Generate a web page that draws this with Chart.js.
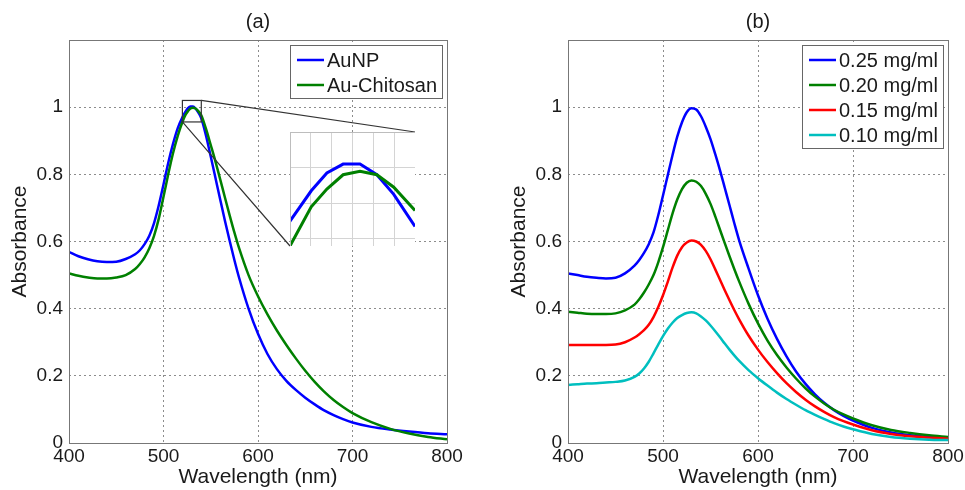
<!DOCTYPE html>
<html>
<head>
<meta charset="utf-8">
<title>Absorbance spectra</title>
<script src="https://cdn.jsdelivr.net/npm/chart.js@4.4.1/dist/chart.umd.min.js"></script>
<style>
  html, body { margin: 0; padding: 0; background: #fff; }
  #fig { position: relative; width: 965px; height: 490px; overflow: hidden; background: #fff; }
  #fig canvas { position: absolute; display: block; }
</style>
</head>
<body>
<div id="fig">
  <canvas id="panelA" width="480" height="490"></canvas>
  <canvas id="panelB" width="485" height="490"></canvas>
  <canvas id="insetA"></canvas>
</div>
<script>
// ---------- Panel (a): AuNP vs Au-Chitosan ----------
const WAVELENGTH_A = [400, 410, 420, 430, 440, 450, 460, 470, 475, 480,
  485, 490, 495, 500, 505, 510, 515,
  520, 523.4, 525.9, 528.5, 531.2, 533.9, 536.6, 540,
  545, 550, 555, 560, 565, 570, 575, 580,
  590, 600, 610, 620, 630, 640, 650, 660, 670, 680, 690, 700,
  720, 740, 760, 780, 800];
const AUNP = [0.569, 0.556, 0.547, 0.541, 0.539, 0.540, 0.548, 0.562, 0.574, 0.592,
  0.617, 0.655, 0.708, 0.770, 0.834, 0.890, 0.937,
  0.970, 0.987, 0.997, 1.002, 1.002, 0.996, 0.985, 0.967,
  0.915, 0.853, 0.789, 0.725, 0.662, 0.602, 0.545, 0.492,
  0.400, 0.325, 0.265, 0.220, 0.185, 0.158, 0.135, 0.115, 0.097, 0.083, 0.071, 0.061,
  0.048, 0.040, 0.034, 0.029, 0.026];
const AU_CHITOSAN = [0.505, 0.498, 0.493, 0.490, 0.490, 0.493, 0.500, 0.518, 0.533, 0.553,
  0.580, 0.617, 0.668, 0.733, 0.800, 0.862, 0.914,
  0.956, 0.978, 0.988, 0.996, 0.998, 0.996, 0.989, 0.976,
  0.935, 0.887, 0.838, 0.785, 0.731, 0.678, 0.627, 0.580,
  0.500, 0.437, 0.383, 0.335, 0.292, 0.252, 0.215, 0.182, 0.153, 0.128, 0.107, 0.089,
  0.062, 0.042, 0.028, 0.018, 0.011];
const LABELS_A = ['AuNP', 'Au-Chitosan'];

// ---------- Panel (b): concentration series ----------
const WAVELENGTH_B = [400, 410, 420, 430, 440, 450, 460, 470,
  475, 480, 485, 490, 495, 500, 505, 510, 515, 520, 525, 530, 535, 540,
  545, 550, 555, 560, 565, 570, 575, 580,
  590, 600, 610, 620, 630, 640, 650, 660, 670, 680, 690, 700,
  720, 740, 760, 780, 800];
const C025 = [0.505, 0.500, 0.495, 0.492, 0.490, 0.492, 0.505, 0.528,
  0.545, 0.566, 0.592, 0.627, 0.678, 0.737, 0.797, 0.857, 0.912, 0.955, 0.985, 0.997, 0.993, 0.973,
  0.942, 0.905, 0.860, 0.812, 0.760, 0.708, 0.655, 0.605,
  0.520, 0.440, 0.370, 0.310, 0.258, 0.213, 0.176, 0.145, 0.119, 0.098, 0.081, 0.067,
  0.045, 0.031, 0.023, 0.018, 0.014];
const C020 = [0.391, 0.388, 0.385, 0.384, 0.384, 0.386, 0.395, 0.412,
  0.428, 0.448, 0.472, 0.500, 0.538, 0.583, 0.633, 0.683, 0.725, 0.756, 0.775, 0.782, 0.778, 0.765,
  0.742, 0.712, 0.675, 0.635, 0.595, 0.556, 0.518, 0.482,
  0.415, 0.356, 0.305, 0.262, 0.225, 0.192, 0.163, 0.138, 0.117, 0.099, 0.085, 0.073,
  0.053, 0.039, 0.030, 0.023, 0.018];
const C015 = [0.292, 0.292, 0.292, 0.292, 0.292, 0.293, 0.300, 0.314,
  0.324, 0.336, 0.352, 0.375, 0.405, 0.440, 0.480, 0.522, 0.558, 0.583, 0.597, 0.603, 0.600, 0.590,
  0.572, 0.547, 0.517, 0.486, 0.455, 0.425, 0.396, 0.369,
  0.320, 0.278, 0.241, 0.208, 0.178, 0.152, 0.129, 0.109, 0.092, 0.077, 0.065, 0.055,
  0.038, 0.027, 0.020, 0.016, 0.013];
const C010 = [0.173, 0.175, 0.177, 0.178, 0.180, 0.182, 0.186, 0.197,
  0.207, 0.222, 0.242, 0.267, 0.293, 0.318, 0.340, 0.358, 0.372, 0.381, 0.387, 0.389, 0.386, 0.377,
  0.365, 0.350, 0.333, 0.315, 0.296, 0.278, 0.261, 0.245,
  0.217, 0.193, 0.171, 0.150, 0.131, 0.114, 0.098, 0.084, 0.071, 0.059, 0.049, 0.041,
  0.027, 0.018, 0.013, 0.010, 0.009];
const LABELS_B = ['0.25 mg/ml', '0.20 mg/ml', '0.15 mg/ml', '0.10 mg/ml'];

// Axis settings shared by both panels
const X_RANGE = [400, 800];
const X_STEP = 100;
const Y_RANGE = [0, 1.2];
const Y_STEP = 0.2;

// Magnified window around the peak of panel (a)
const INSET_X = [520, 540];
const INSET_X_STEP = 10 / 3;
const INSET_Y = [0.956, 1.02];
const INSET_Y_GRID = [0.96, 0.98, 1.00, 1.02];
const INSET_BOX = { left: 290, top: 132, width: 125, height: 114 };

const FONT = "'Liberation Sans', Arial, Helvetica, sans-serif";
const INK = '#1a1a1a';
const COLORS = { blue: '#0000ff', green: '#008000', red: '#ff0000', cyan: '#00bfbf' };

const toPoints = (xs, ys) => xs.map((x, i) => ({ x, y: ys[i] }));

function series(label, xs, ys, color, idx, extra) {
  return Object.assign({
    label,
    data: toPoints(xs, ys),
    borderColor: color,
    backgroundColor: color,
    borderWidth: 2.5,
    pointRadius: 0,
    fill: false,
    cubicInterpolationMode: 'monotone',
    order: -idx
  }, extra || {});
}

// Plot frame on all four sides
const frame = {
  id: 'frame',
  afterDatasetsDraw(chart, args, opts) {
    const { ctx, chartArea: a } = chart;
    ctx.save();
    ctx.strokeStyle = opts.color || '#777';
    ctx.lineWidth = 1;
    ctx.strokeRect(Math.round(a.left) + 0.5, Math.round(a.top) + 0.5,
      Math.round(a.right - a.left), Math.round(a.bottom - a.top));
    ctx.restore();
  }
};

// Panel letter above the plot
const panelTitle = {
  id: 'panelTitle',
  afterDraw(chart, args, opts) {
    if (!opts.text) return;
    const { ctx, chartArea: a } = chart;
    ctx.save();
    ctx.font = `20px ${FONT}`;
    ctx.fillStyle = INK;
    ctx.textAlign = 'center';
    ctx.textBaseline = 'middle';
    ctx.fillText(opts.text, (a.left + a.right) / 2, a.top - 18);
    ctx.restore();
  }
};

// Boxed legend in the upper-right corner of the plot
const boxLegend = {
  id: 'boxLegend',
  afterDraw(chart, args, opts) {
    if (!opts.enabled) return;
    const { ctx, chartArea: a } = chart;
    const ds = chart.data.datasets;
    ctx.save();
    ctx.font = `20px ${FONT}`;
    const textW = Math.max(...ds.map(d => ctx.measureText(d.label).width));
    const padL = 7, lineLen = 27, gap = 3, padR = 5;
    const rowTop = 15, rowStep = 25, rowBottom = 13;
    const w = Math.round(padL + lineLen + gap + textW + padR);
    const h = rowTop + (ds.length - 1) * rowStep + rowBottom;
    const x0 = Math.round(a.right - 5 - w);
    const y0 = Math.round(a.top + 5);
    ctx.fillStyle = '#fff';
    ctx.fillRect(x0, y0, w, h);
    ctx.strokeStyle = '#666';
    ctx.lineWidth = 1;
    ctx.strokeRect(x0 + 0.5, y0 + 0.5, w, h);
    ds.forEach((d, i) => {
      const cy = y0 + rowTop + i * rowStep;
      ctx.strokeStyle = d.borderColor;
      ctx.lineWidth = d.borderWidth;
      ctx.beginPath();
      ctx.moveTo(x0 + padL, cy);
      ctx.lineTo(x0 + padL + lineLen, cy);
      ctx.stroke();
      ctx.fillStyle = INK;
      ctx.textAlign = 'left';
      ctx.textBaseline = 'middle';
      ctx.fillText(d.label, x0 + padL + lineLen + gap, cy + 1);
    });
    ctx.restore();
  }
};

// Rectangle marking the magnified window, with guide lines to the inset
const zoomGuide = {
  id: 'zoomGuide',
  afterDatasetsDraw(chart) {
    const { ctx, scales: { x, y } } = chart;
    const l = x.getPixelForValue(INSET_X[0]);
    const r = x.getPixelForValue(INSET_X[1]);
    const t = y.getPixelForValue(INSET_Y[1]);
    const b = y.getPixelForValue(INSET_Y[0]);
    ctx.save();
    ctx.strokeStyle = '#333';
    ctx.lineWidth = 1.2;
    ctx.strokeRect(l, t, r - l, b - t);
    ctx.beginPath();
    ctx.moveTo(r, t);
    ctx.lineTo(INSET_BOX.left + INSET_BOX.width, INSET_BOX.top);
    ctx.moveTo(l, b);
    ctx.lineTo(INSET_BOX.left, INSET_BOX.top + INSET_BOX.height);
    ctx.stroke();
    ctx.restore();
  }
};

function panelOptions(cfg) {
  const tickFont = { family: FONT, size: 19 };
  const titleFont = { family: FONT, size: 21 };
  return {
    responsive: false,
    animation: false,
    devicePixelRatio: 1,
    events: [],
    layout: { padding: { left: 0, top: 40, right: cfg.padRight, bottom: 0 } },
    plugins: {
      legend: { display: false },
      tooltip: { enabled: false },
      title: { display: false },
      panelTitle: { text: cfg.title },
      boxLegend: { enabled: true },
      frame: { color: '#777' }
    },
    scales: {
      x: {
        type: 'linear',
        min: X_RANGE[0], max: X_RANGE[1],
        ticks: {
          stepSize: X_STEP, padding: 2, maxRotation: 0, autoSkip: false,
          font: tickFont, color: INK,
          callback: v => String(v)
        },
        grid: { color: '#8c8c8c', lineWidth: 1, drawTicks: false, borderDash: [2, 3] },
        border: { display: false, dash: [2, 3] },
        title: { display: true, text: 'Wavelength (nm)', font: titleFont, color: INK, padding: { top: 0, bottom: 0 } },
        afterFit(s) { s.height = 47; s.paddingLeft = 0; s.paddingRight = 0; }
      },
      y: {
        type: 'linear',
        min: Y_RANGE[0], max: Y_RANGE[1],
        ticks: {
          stepSize: Y_STEP, padding: 6, font: tickFont, color: INK,
          callback: v => (v > 1.1 ? '' : String(+v.toFixed(1)))
        },
        grid: { color: '#8c8c8c', lineWidth: 1, drawTicks: false, borderDash: [2, 3] },
        border: { display: false, dash: [2, 3] },
        title: { display: true, text: 'Absorbance', font: titleFont, color: INK, padding: { top: cfg.yTitlePad, bottom: 0 } },
        afterFit(s) { s.width = cfg.yAxisWidth; s.paddingTop = 0; s.paddingBottom = 0; }
      }
    }
  };
}

const panelACanvas = document.getElementById('panelA');
panelACanvas.style.left = '0px';
panelACanvas.style.top = '0px';
const panelBCanvas = document.getElementById('panelB');
panelBCanvas.style.left = '480px';
panelBCanvas.style.top = '0px';

// Panel (a)
const chartA = new Chart(panelACanvas, {
  type: 'line',
  data: {
    datasets: [
      series(LABELS_A[0], WAVELENGTH_A, AUNP, COLORS.blue, 0),
      series(LABELS_A[1], WAVELENGTH_A, AU_CHITOSAN, COLORS.green, 1)
    ]
  },
  options: panelOptions({ title: '(a)', padRight: 33, yAxisWidth: 69, yTitlePad: 8 }),
  plugins: [frame, zoomGuide, panelTitle, boxLegend]
});

// Panel (b)
const chartB = new Chart(panelBCanvas, {
  type: 'line',
  data: {
    datasets: [
      series(LABELS_B[0], WAVELENGTH_B, C025, COLORS.blue, 0),
      series(LABELS_B[1], WAVELENGTH_B, C020, COLORS.green, 1),
      series(LABELS_B[2], WAVELENGTH_B, C015, COLORS.red, 2),
      series(LABELS_B[3], WAVELENGTH_B, C010, COLORS.cyan, 3)
    ]
  },
  options: panelOptions({ title: '(b)', padRight: 17, yAxisWidth: 88, yTitlePad: 27 }),
  plugins: [frame, panelTitle, boxLegend]
});

// Inset: magnified peak of panel (a)
const insetCanvas = document.getElementById('insetA');
insetCanvas.width = INSET_BOX.width;
insetCanvas.height = INSET_BOX.height;
insetCanvas.style.left = INSET_BOX.left + 'px';
insetCanvas.style.top = INSET_BOX.top + 'px';

const whiteBackground = {
  id: 'whiteBackground',
  beforeDraw(chart) {
    const { ctx, width, height } = chart;
    ctx.save();
    ctx.fillStyle = '#fff';
    ctx.fillRect(0, 0, width, height);
    ctx.restore();
  }
};

const insetLine = { cubicInterpolationMode: 'default', tension: 0, borderWidth: 3 };
const insetChart = new Chart(insetCanvas, {
  type: 'line',
  data: {
    datasets: [
      series(LABELS_A[0], WAVELENGTH_A, AUNP, COLORS.blue, 0, insetLine),
      series(LABELS_A[1], WAVELENGTH_A, AU_CHITOSAN, COLORS.green, 1, insetLine)
    ]
  },
  options: {
    responsive: false,
    animation: false,
    devicePixelRatio: 1,
    events: [],
    layout: { padding: 0 },
    plugins: {
      legend: { display: false },
      tooltip: { enabled: false },
      frame: { color: '#bdbdbd' }
    },
    scales: {
      x: {
        type: 'linear', min: INSET_X[0], max: INSET_X[1],
        ticks: { display: false, stepSize: INSET_X_STEP },
        grid: { color: '#d4d4d4', lineWidth: 1, drawTicks: false },
        border: { display: false },
        afterFit(s) { s.height = 0; s.paddingLeft = 0; s.paddingRight = 0; }
      },
      y: {
        type: 'linear', min: INSET_Y[0], max: INSET_Y[1],
        ticks: { display: false },
        afterBuildTicks(s) { s.ticks = INSET_Y_GRID.map(v => ({ value: v })); },
        grid: { color: '#d4d4d4', lineWidth: 1, drawTicks: false },
        border: { display: false },
        afterFit(s) { s.width = 0; s.paddingTop = 0; s.paddingBottom = 0; }
      }
    }
  },
  plugins: [whiteBackground, frame]
});
</script>
</body>
</html>
